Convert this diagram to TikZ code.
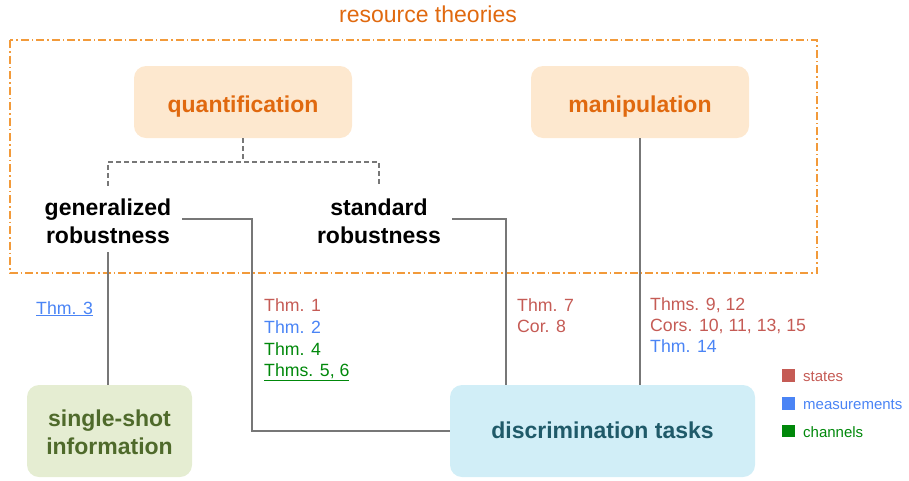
\documentclass[tikz,border=0pt]{standalone}
\usepackage{fontspec}
\setmainfont{Liberation Sans}
\definecolor{orangetxt}{HTML}{E0690F}
\definecolor{orangeline}{HTML}{F29A3A}
\definecolor{orangefill}{HTML}{FDE8CF}
\definecolor{greenfill}{HTML}{E5EDD2}
\definecolor{greentxt}{HTML}{4F6A2B}
\definecolor{bluefill}{HTML}{D1EEF7}
\definecolor{bluetxt}{HTML}{1F5A69}
\definecolor{conn}{HTML}{777777}
\definecolor{cstate}{HTML}{C55B55}
\definecolor{cmeas}{HTML}{4A84F5}
\definecolor{cchan}{HTML}{00880A}
\newcommand{\lowr}[2]{\raisebox{-#1}[0pt][0pt]{#2}}
\tikzset{
  bigfont/.style={font=\fontsize{23}{28}\selectfont\bfseries},
  smallfont/.style={font=\fontsize{17.7}{21}\selectfont},
  legfont/.style={font=\fontsize{15}{17}\selectfont},
  roundbox/.style={rounded corners=12pt, inner sep=0pt, align=center, bigfont},
  orbox/.style={roundbox, fill=orangefill, text=orangetxt, minimum width=218pt, minimum height=72pt},
  plaintxt/.style={inner sep=0pt, align=center, bigfont, text=black, minimum height=66pt},
  link/.style={draw=conn, line width=1.8pt},
  dlink/.style={draw=conn, line width=1.6pt, dash pattern=on 5pt off 3pt},
  thm/.style={anchor=base west, inner sep=0pt, smallfont},
  legsq/.style={fill, minimum size=12.5pt, inner sep=0pt},
  legtxt/.style={anchor=base west, inner sep=0pt, legfont},
}
\begin{document}
\begin{tikzpicture}[x=1pt, y=-1pt]
\useasboundingbox (0,0) rectangle (909,480);
% title and frame
\node[anchor=base, inner sep=0pt, text=orangetxt, font=\fontsize{23}{27}\selectfont] (title) at (428,22) {resource theories};
\draw[orangeline, line width=1.3pt, dash pattern=on 8pt off 3pt on 1.5pt off 3pt] (10,40) rectangle (817,273);
% boxes
\node[orbox] (quant) at (243,102) {\lowr{10pt}{quantification}};
\node[orbox] (manip) at (640,102) {\lowr{10pt}{manipulation}};
\node[plaintxt, minimum width=148pt] (gen) at (108,219) {\lowr{10pt}{generalized}\\\lowr{10pt}{robustness}};
\node[plaintxt, minimum width=146pt] (std) at (379,219) {\lowr{10pt}{standard}\\\lowr{10pt}{robustness}};
\node[roundbox, fill=greenfill, text=greentxt, minimum width=165pt, minimum height=92pt] (single) at (109.5,431) {\lowr{9pt}{single-shot}\\\lowr{9pt}{information}};
\node[roundbox, fill=bluefill, text=bluetxt, minimum width=305pt, minimum height=92pt] (discr) at (602.5,431) {\lowr{7pt}{discrimination tasks}};
% dashed connector
\coordinate (qj) at (243,162);
\draw[dlink] (quant.south) -- (qj);
\draw[dlink] (gen.north) |- (qj) -| (std.north);
% solid connectors
\coordinate (gcol) at (252,300);
\coordinate (scol) at (506,300);
\draw[link] (gen.south) -- (gen.south |- single.north);
\draw[link] (gen.east) -| (gcol) |- (discr.west);
\draw[link] (std.east) -| (scol) -- (scol |- discr.north);
\draw[link] (manip.south) -- (manip.south |- discr.north);
% theorem labels
\node[thm, text=cmeas] (t3) at (36,314) {\underline{Thm. 3}};
\node[thm, text=cstate] (t1) at (264,311.5) {Thm. 1};
\node[thm, text=cmeas] (t2) at (264,333) {Thm. 2};
\node[thm, text=cchan] (t4) at (264,355) {Thm. 4};
\node[thm, text=cchan] (t56) at (264,376.5) {\underline{Thms. 5, 6}};
\node[thm, text=cstate] (t7) at (517,311.5) {Thm. 7};
\node[thm, text=cstate] (c8) at (517,332.5) {Cor. 8};
\node[thm, text=cstate] (t912) at (650,310) {Thms. 9, 12};
\node[thm, text=cstate] (c10) at (650,331) {Cors. 10, 11, 13, 15};
\node[thm, text=cmeas] (t14) at (650,352.5) {Thm. 14};
% legend
\node[legsq, cstate] (sqs) at (788.5,375.5) {};
\node[legsq, cmeas] (sqm) at (788.5,403.5) {};
\node[legsq, cchan] (sqc) at (788.5,431) {};
\node[legtxt, text=cstate] (ls) at (803,381.5) {states};
\node[legtxt, text=cmeas] (lm) at (803,409) {measurements};
\node[legtxt, text=cchan] (lc) at (803,437.5) {channels};
\end{tikzpicture}
\end{document}
